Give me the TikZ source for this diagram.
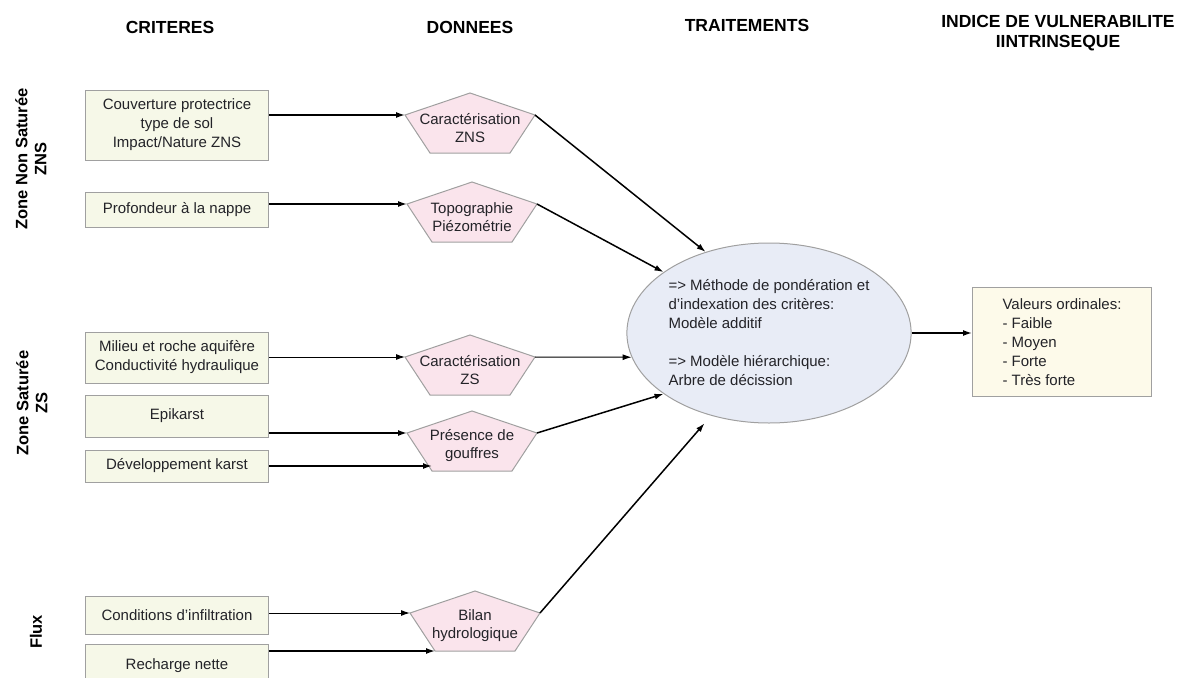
\documentclass[tikz,border=0pt]{standalone}
\usepackage{fontspec}
\setmainfont{Liberation Sans}
\usepackage{tikz}
\usetikzlibrary{shapes,arrows,arrows.meta,positioning,calc,backgrounds}
\definecolor{critfill}{RGB}{246, 248, 232}
\definecolor{pentafill}{RGB}{250, 228, 236}
\definecolor{ellfill}{RGB}{232, 236, 246}
\definecolor{resfill}{RGB}{253, 250, 234}
\definecolor{bord}{RGB}{160, 160, 160}
\definecolor{texte}{RGB}{35, 35, 40}
\tikzstyle{titre} = [draw=none, fill=none, text centered, align=center, text=black, font=\fontsize{17.5}{20}\selectfont\bfseries]
\tikzstyle{zone} = [draw=none, fill=none, rotate=90, align=center, text=black, font=\fontsize{16.5}{19}\selectfont\bfseries]
\tikzstyle{crit} = [rectangle, draw=bord, line width=1pt, fill=critfill, text=texte, align=center, inner sep=0pt, minimum width=183pt, font=\fontsize{15}{19}\selectfont]
\tikzstyle{dtexte} = [draw=none, fill=none, text=texte, align=center, inner sep=0pt, font=\fontsize{15}{18}\selectfont]
\tikzstyle{penta} = [draw=bord, line width=1pt, fill=pentafill]
\tikzstyle{traite} = [ellipse, draw=bord, line width=1pt, fill=ellfill, text=texte, align=left, inner sep=0pt, minimum width=272pt, minimum height=180pt, font=\fontsize{15}{19}\selectfont]
\tikzstyle{indice} = [rectangle, draw=bord, line width=1pt, fill=resfill, text=texte, align=left, minimum width=179pt, minimum height=109pt, font=\fontsize{15}{19}\selectfont]
\tikzstyle{lien}  = [draw, line width=1.5pt, >={Latex[length=9pt,width=6pt]}, ->]
\tikzstyle{lienfin}  = [draw, line width=1pt, >={Latex[length=9pt,width=6pt]}, ->]

\begin{document}
\begin{tikzpicture}[x=1pt, y=-1pt]
\useasboundingbox (0,0) rectangle (1188,677);

% titles =============================
\node[titre] (tcrit) at (170,27) {CRITERES};
\node[titre] (tdon) at (470,27) {DONNEES};
\node[titre] (ttrait) at (747,25) {TRAITEMENTS};
\node[titre] (tind) at (1058,33) {INDICE DE VULNERABILITE\\IINTRINSEQUE};

\node[zone] (lzns) at (31,159) {Zone Non Saturée\\ZNS};
\node[zone] (lzs) at (32,403) {Zone Saturée\\ZS};
\node[zone] (lflux) at (36,632) {Flux};

% criteres
\node[crit, minimum height=70pt] (couv) at (177,125) {Couverture protectrice\\type de sol\\Impact/Nature ZNS};
\node[crit, minimum height=35pt, below=31pt of couv] (prof) {Profondeur à la nappe};
\node[crit, minimum height=51pt, below=104pt of prof] (milieu) {Milieu et roche aquifère\\Conductivité hydraulique};
\node[crit, minimum height=42pt, below=11pt of milieu] (epik) {Epikarst};
\node[crit, minimum height=32pt, below=12pt of epik] (dev) {Développement karst};
\node[crit, minimum height=38pt, below=113pt of dev] (cond) {Conditions d'infiltration};
\node[crit, minimum height=44pt, below=9pt of cond] (rech) {Recharge nette};

% donnees
\node[dtexte] (zns) at (470,128) {Caractérisation\\ZNS};
\node[dtexte] (topo) at (472,217) {Topographie\\Piézométrie};
\node[dtexte] (zs) at (470,370) {Caractérisation\\ZS};
\node[dtexte] (pres) at (472,446) {Présence de\\gouffres};
\node[dtexte] (bilan) at (475,626) {Bilan\\hydrologique};

\begin{scope}[on background layer]
\foreach \p in {zns,topo,zs,pres,bilan}
  \draw[penta] ($(\p)+(0,-35)$) -- ($(\p)+(65,-13)$) coordinate (\p-e)
    -- ($(\p)+(40,25)$) coordinate (\p-se) -- ($(\p)+(-40,25)$) coordinate (\p-sw)
    -- ($(\p)+(-65,-13)$) coordinate (\p-w) -- cycle;
\end{scope}

% traitements et indice
\node[traite] (ell) at (769,333) {=> Méthode de pondération et\\d'indexation des critères:\\Modèle additif\\[19pt]=> Modèle hiérarchique:\\Arbre de décission};
\node[indice] (res) at (1062,342) {Valeurs ordinales:\\- Faible\\- Moyen\\- Forte\\- Très forte};

% edges
\path[lien] (couv.east |- zns-w) -- (zns-w);
\path[lien] (prof.east |- topo-w) -- (topo-w);
\path[lienfin] (milieu.east |- zs-w) -- (zs-w);
\path[lien] (epik.east |- pres-w) -- (pres-w);
\path[lien] (dev.east) -- (dev.east -| pres-sw);
\path[lienfin] (cond.east |- bilan-w) -- (bilan-w);
\path[lien] (rech.east |- bilan-sw) -- (bilan-sw);
\path[lien] (zns-e) -- (ell.128);
\path[lien] (topo-e) -- (ell.150);
\path[lienfin] (zs-e) -- (ell.190);
\path[lien] (pres-e) -- (ell.210);
\path[lien, shorten >=10pt] (bilan-e) -- (ell.235);
\path[lien] (ell.east) -- (ell.east -| res.west);

\end{tikzpicture}
\end{document}
